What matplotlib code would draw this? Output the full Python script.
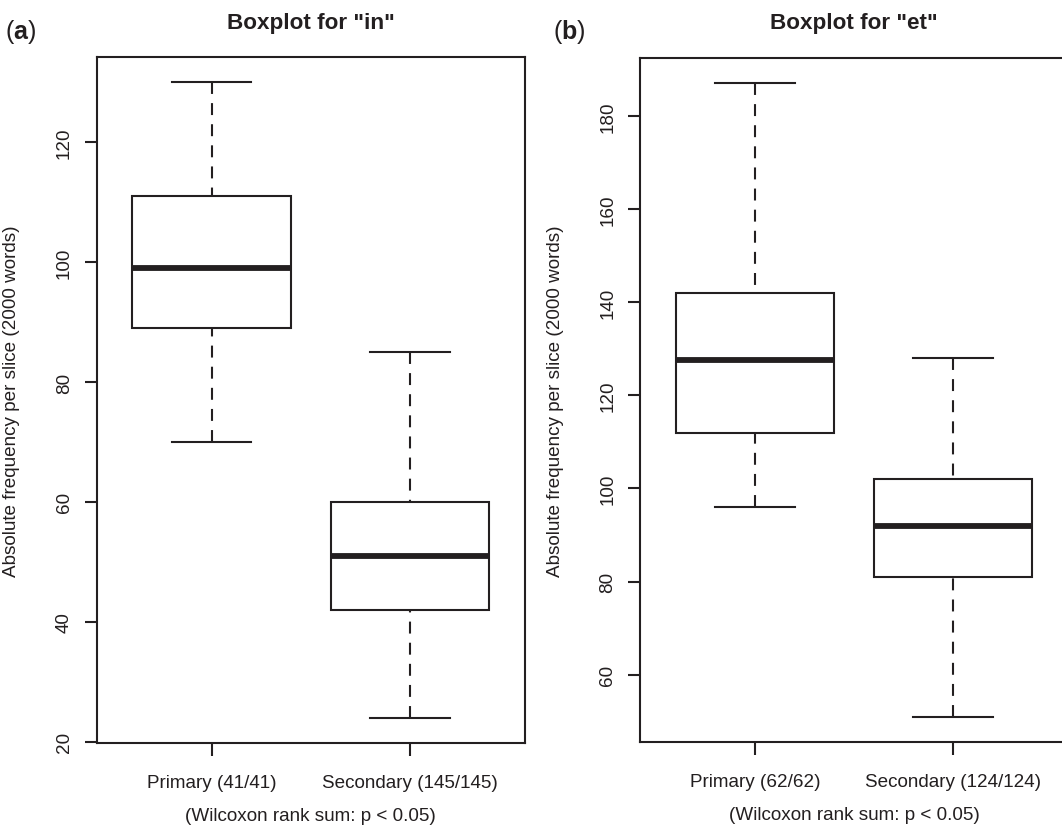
import matplotlib
matplotlib.use('Agg')
import matplotlib.pyplot as plt

plt.rcParams['font.family'] = ['Liberation Sans', 'DejaVu Sans']
plt.rcParams['mathtext.fontset'] = 'custom'
plt.rcParams['mathtext.rm'] = 'Liberation Sans'
plt.rcParams['mathtext.bf'] = 'Liberation Sans:bold'
plt.rcParams['lines.scale_dashes'] = False

INK = '#231f20'

# ---- data: panel (a) "in"
categories_in = ['Primary (41/41)', 'Secondary (145/145)']
in_whislo = [70, 24]
in_q1 = [89, 42]
in_med = [99, 51]
in_q3 = [111, 60]
in_whishi = [130, 85]
yticks_in = [20, 40, 60, 80, 100, 120]

# ---- data: panel (b) "et"
categories_et = ['Primary (62/62)', 'Secondary (124/124)']
et_whislo = [96, 51]
et_q1 = [112, 81]
et_med = [127.5, 92]
et_q3 = [142, 102]
et_whishi = [187, 128]
yticks_et = [60, 80, 100, 120, 140, 160, 180]

titles = ['Boxplot for "in"', 'Boxplot for "et"']
panel_labels = ['($\\mathbf{a}$)', '($\\mathbf{b}$)']
ylabel = 'Absolute frequency per slice (2000 words)'
xlabel = '(Wilcoxon rank sum: p < 0.05)'

W, H = 1062, 828
fig = plt.figure(figsize=(W / 100, H / 100), dpi=100)

def px_axes(left, top, right, bottom):
    return fig.add_axes([left / W, 1 - bottom / H, (right - left) / W, (bottom - top) / H])

ax_a = px_axes(96.5, 58, 525, 744)
ax_b = px_axes(640, 59, 1068, 743)

FS = 13.6

def draw(ax, cats, lo, q1, med, q3, hi, yticks, title, title_x, plabel, plabel_x):
    stats = []
    for i, c in enumerate(cats):
        stats.append(dict(label=c, whislo=lo[i], q1=q1[i], med=med[i], q3=q3[i],
                          whishi=hi[i], fliers=[]))
    res = ax.bxp(stats, positions=[1, 2], widths=0.8, capwidths=0.4, patch_artist=True,
                 showfliers=False,
                 boxprops=dict(facecolor='white', edgecolor=INK, linewidth=1.5),
                 medianprops=dict(color=INK, linewidth=4.2, solid_capstyle='butt'),
                 whiskerprops=dict(color=INK, linewidth=1.5, linestyle=(0, (8.6, 6.6))),
                 capprops=dict(color=INK, linewidth=1.5))
    # R draws whiskers from the cap towards the box: start the dash pattern at the cap
    for w in res['whiskers']:
        x, y = w.get_data()
        w.set_data(list(x)[::-1], list(y)[::-1])
    dmin, dmax = min(lo), max(hi)
    span = dmax - dmin
    ax.set_ylim(dmin - 0.04 * span, dmax + 0.04 * span)
    ax.set_xlim(0.42, 2.58)
    ax.set_yticks(yticks)
    ax.set_yticklabels([str(t) for t in yticks], rotation=90, va='center', ha='right')
    ax.set_xticks([1, 2])
    ax.set_xticklabels(cats)
    ax.tick_params(axis='both', direction='out', length=9, width=1.5, color=INK,
                   labelcolor=INK, labelsize=FS)
    ax.tick_params(axis='y', pad=8)
    ax.tick_params(axis='x', pad=13)
    for s in ax.spines.values():
        s.set_linewidth(1.5)
        s.set_color(INK)
    ax.set_ylabel(ylabel, fontsize=FS, color=INK)
    ax.yaxis.set_label_coords(-0.178, 0.5)
    ax.set_xlabel(xlabel, fontsize=FS, color=INK)
    ax.xaxis.set_label_coords(0.5, -0.094)
    fig.text(title_x / W, 1 - 23 / H, title,
             ha='center', va='center', fontsize=16.2, fontweight='bold', color=INK)
    fig.text(plabel_x / W, 1 - 32 / H, plabel, ha='left', va='center', fontsize=18, color=INK)

draw(ax_a, categories_in, in_whislo, in_q1, in_med, in_q3, in_whishi, yticks_in,
     titles[0], 311, panel_labels[0], 5)
draw(ax_b, categories_et, et_whislo, et_q1, et_med, et_q3, et_whishi, yticks_et,
     titles[1], 854, panel_labels[1], 553)

fig.savefig('out.png', dpi=100)
